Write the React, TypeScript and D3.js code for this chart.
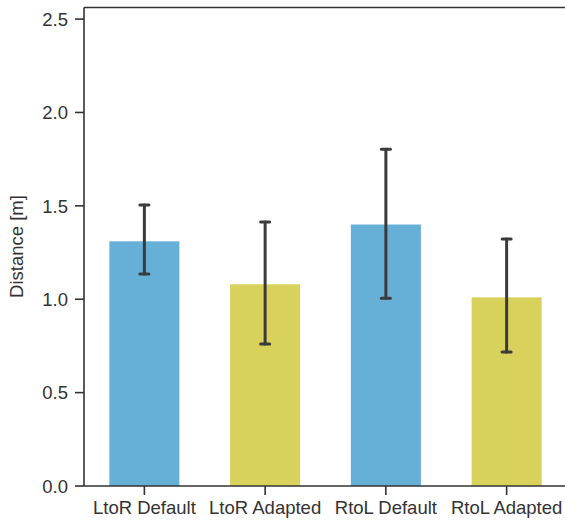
import * as d3 from "d3";
import React from "react";

const categories = ["LtoR Default", "LtoR Adapted", "RtoL Default", "RtoL Adapted"];
const means = [1.31, 1.08, 1.4, 1.01];
const lows = [1.135, 0.76, 1.005, 0.717];
const highs = [1.505, 1.413, 1.803, 1.322];
const colors = ["#66afd7", "#d8d15b", "#66afd7", "#d8d15b"];
const yTicks = [0, 0.5, 1.0, 1.5, 2.0, 2.5];

const width = 565;
const height = 520;
const left = 84;
const top = 7.5;
const bottom = 486;
const right = 567;

const x = d3.scaleBand().domain(categories).range([left, right]).paddingInner(0.42).paddingOuter(0.21);
const y = d3.scaleLinear().domain([0, 2.562]).range([bottom, top]);

const ink = "#333333";
const font = "Arial, 'Liberation Sans', sans-serif";
const fs = 18.5;

const App = () => {
  const bw = x.bandwidth();
  return (
    <svg width={width} height={height} style={{ position: "absolute", left: 0, top: 0 }}>
      {categories.map((c, i) => (
        <rect key={c} x={x(c)} y={y(means[i])} width={bw} height={y(0) - y(means[i])} fill={colors[i]} />
      ))}
      {categories.map((c, i) => {
        const cx = (x(c) as number) + bw / 2;
        return (
          <g key={c} stroke="#3b3b3b" strokeWidth={3} strokeLinecap="round">
            <line x1={cx} x2={cx} y1={y(lows[i])} y2={y(highs[i])} />
            <line x1={cx - 4.5} x2={cx + 4.5} y1={y(lows[i])} y2={y(lows[i])} />
            <line x1={cx - 4.5} x2={cx + 4.5} y1={y(highs[i])} y2={y(highs[i])} />
          </g>
        );
      })}
      <g stroke={ink} strokeWidth={1.6} fill="none">
        <line x1={left} x2={left} y1={top} y2={bottom} />
        <line x1={left} x2={right} y1={bottom} y2={bottom} />
        <line x1={left} x2={right} y1={top} y2={top} />
        <line x1={right} x2={right} y1={top} y2={bottom} />
      </g>
      {yTicks.map((t) => (
        <g key={t}>
          <line x1={left - 9} x2={left} y1={y(t)} y2={y(t)} stroke={ink} strokeWidth={1.6} />
          <text x={68} y={y(t)} dy="0.36em" textAnchor="end" fontFamily={font} fontSize={fs} fill={ink}>
            {t.toFixed(1)}
          </text>
        </g>
      ))}
      {categories.map((c) => {
        const cx = (x(c) as number) + bw / 2;
        return (
          <g key={c}>
            <line x1={cx} x2={cx} y1={bottom} y2={bottom + 9} stroke={ink} strokeWidth={1.6} />
            <text x={cx} y={514} textAnchor="middle" fontFamily={font} fontSize={fs} fill={ink}>
              {c}
            </text>
          </g>
        );
      })}
      <text
        transform={`translate(22.5, 246.5) rotate(-90)`}
        textAnchor="middle"
        fontFamily={font}
        fontSize={fs}
        fill={ink}
      >
        Distance [m]
      </text>
    </svg>
  );
};

export default App;
